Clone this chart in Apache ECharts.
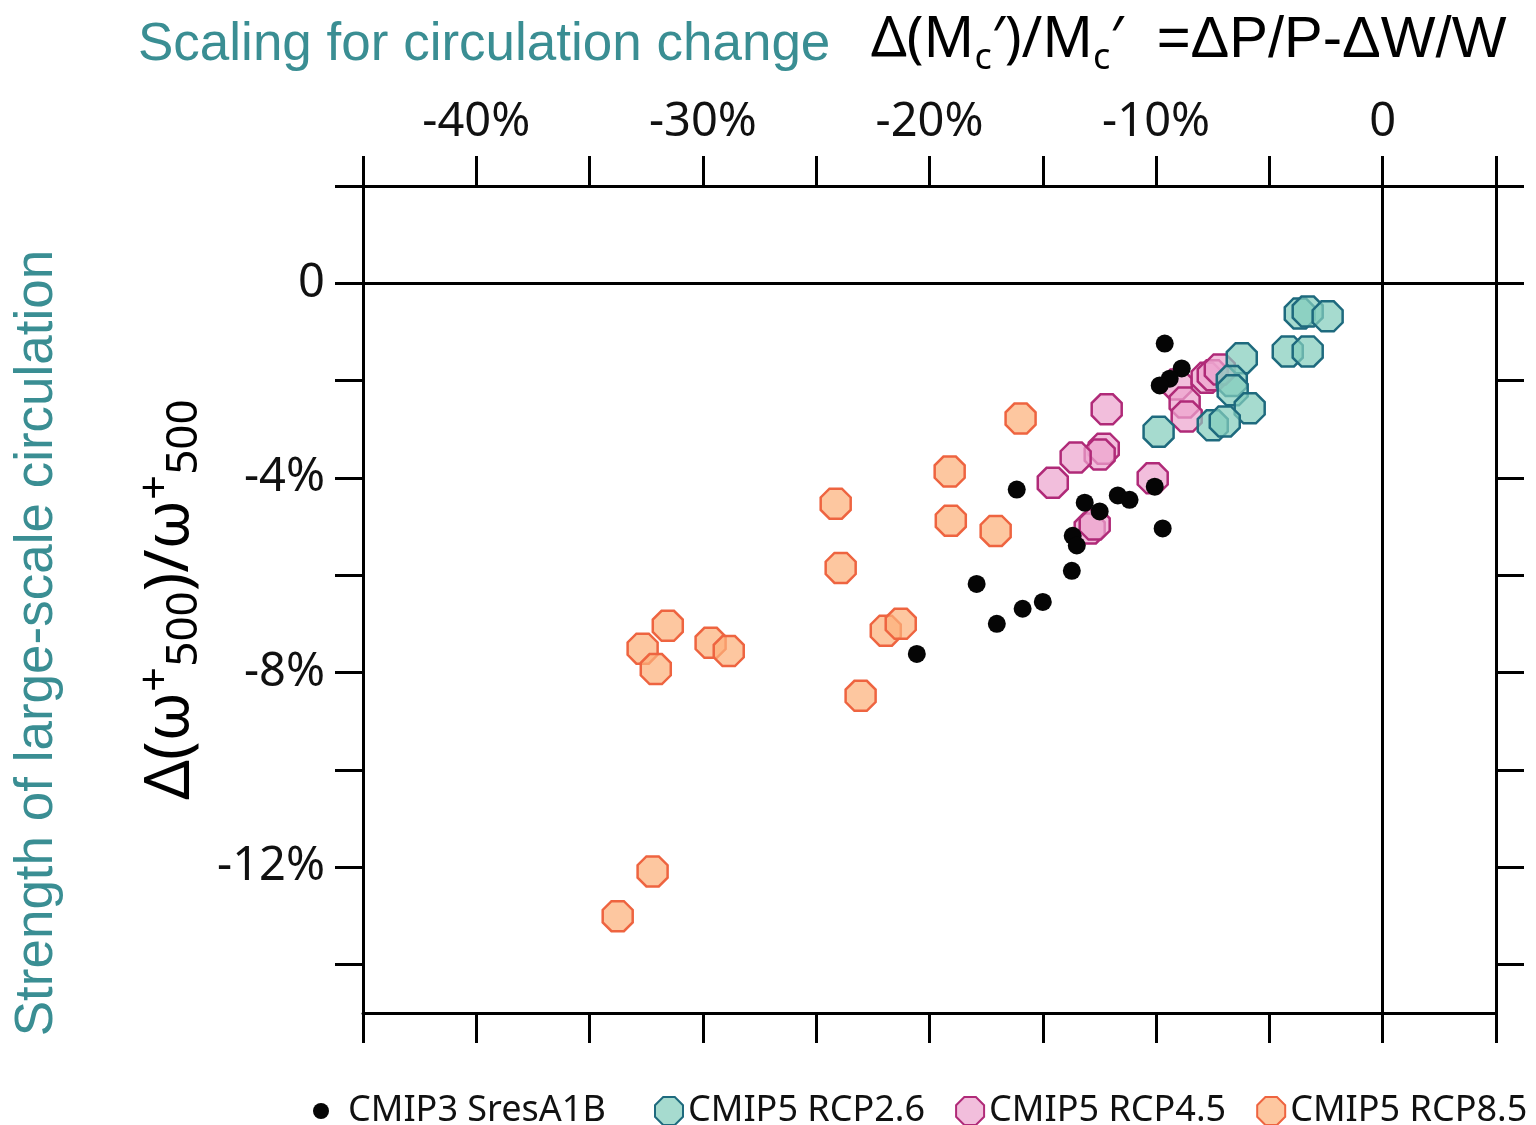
<!DOCTYPE html>
<html>
<head>
<meta charset="utf-8">
<script src="https://cdn.jsdelivr.net/npm/echarts@6/dist/echarts.min.js"></script>
<style>html,body{margin:0;padding:0;background:#fff;}#c{width:1536px;height:1125px;}</style>
</head>
<body>
<div id="c"></div>
<script>
// ---- data (x: scaling for circulation change %, y: change in omega+500 %) ----
const cmip3 = [
  [-9.62,-1.24],[-8.87,-1.75],[-9.40,-1.96],[-9.84,-2.10],[-16.15,-4.24],[-13.15,-4.51],
  [-12.49,-4.69],[-11.69,-4.36],[-11.17,-4.45],[-10.06,-4.18],[-9.71,-5.04],[-13.68,-5.19],
  [-13.50,-5.39],[-13.72,-5.91],[-17.92,-6.18],[-15.00,-6.55],[-15.89,-6.69],[-17.03,-7.00],
  [-20.56,-7.62]
];
const rcp26 = [
  [-3.66,-0.62],[-3.31,-0.58],[-2.43,-0.68],[-4.19,-1.40],[-3.31,-1.40],[-6.22,-1.54],
  [-6.66,-2.01],[-6.62,-2.20],[-5.87,-2.57],[-7.50,-2.92],[-6.97,-2.84],[-9.89,-3.05]
];
const rcp45 = [
  [-12.18,-2.59],[-12.31,-3.40],[-12.49,-3.52],[-13.55,-3.58],[-14.56,-4.10],[-10.15,-4.01],
  [-12.93,-5.04],[-12.71,-4.96],[-9.09,-2.08],[-8.74,-2.45],[-8.65,-2.74],[-7.77,-1.94],
  [-7.50,-1.89],[-7.19,-1.77]
];
const rcp85 = [
  [-15.98,-2.78],[-19.11,-3.87],[-19.06,-4.88],[-17.08,-5.09],[-24.14,-4.53],[-23.92,-5.85],
  [-31.55,-7.04],[-32.66,-7.51],[-32.08,-7.93],[-29.66,-7.39],[-28.86,-7.56],[-21.93,-7.14],
  [-21.27,-7.00],[-23.04,-8.48],[-32.22,-12.09],[-33.76,-13.01]
];
const seriesNames = ['CMIP3 SresA1B','CMIP5 RCP2.6','CMIP5 RCP4.5','CMIP5 RCP8.5'];
const xLabelValues = [-40,-30,-20,-10,0];
const yTickValues = [2,0,-2,-4,-6,-8,-10,-12,-14];
const yLabelValues = [0,-4,-8,-12];

const OCT = 'path://M-0.4142,-1L0.4142,-1L1,-0.4142L1,0.4142L0.4142,1L-0.4142,1L-1,0.4142L-1,-0.4142Z';
const TEAL = '#3a8e93';
const lineW = 3;
const fmt = v => (v === 0 ? '0' : v + '%');
const labelFont = {fontFamily: 'Noto Sans', fontSize: 47, color: '#111'};

function xAx(pos, showLabel) {
  return {
    type: 'value', position: pos, min: -45, max: 5, interval: 5,
    axisLine: {show: true, onZero: false, lineStyle: {color: '#000', width: lineW}},
    axisTick: {show: true, inside: false, length: 30, lineStyle: {color: '#000', width: lineW}},
    axisLabel: showLabel ? Object.assign({show: true, margin: 40, customValues: xLabelValues, formatter: fmt}, labelFont) : {show: false},
    splitLine: {show: false}
  };
}
function yAx(pos, showLabel) {
  const a = {
    type: 'value', position: pos, min: -15, max: 2,
    axisLine: {show: true, onZero: false, lineStyle: {color: '#000', width: lineW}},
    axisTick: {show: true, inside: false, length: 28, customValues: yTickValues, lineStyle: {color: '#000', width: lineW}},
    axisLabel: showLabel ? Object.assign({show: true, margin: 38, customValues: yLabelValues, formatter: fmt}, labelFont) : {show: false},
    splitLine: {show: false}
  };
  if (showLabel) {
    a.name = '{n|Δ(ω}{sup|+}{sub|500}{n|)/ω}{sup|+}{sub|500}';
    a.nameLocation = 'middle';
    a.nameRotate = 90;
    a.nameGap = 146;
    a.nameTextStyle = {
      rich: {
        n: {fontFamily: 'Noto Sans', fontSize: 62, color: '#000', lineHeight: 72},
        sup: {fontFamily: 'Noto Sans', fontSize: 44, color: '#000', verticalAlign: 'top', lineHeight: 42},
        sub: {fontFamily: 'Noto Sans', fontSize: 44, color: '#000', verticalAlign: 'bottom', lineHeight: 42}
      }
    };
  }
  return a;
}

function octSeries(name, data, fill, stroke) {
  return {
    name, type: 'scatter', data, symbol: OCT, symbolSize: 30,
    xAxisIndex: 0, yAxisIndex: 0,
    itemStyle: {color: fill, borderColor: stroke, borderWidth: 2.5, opacity: 1},
    emphasis: {disabled: true}
  };
}

const chart = echarts.init(document.getElementById('c'), null, {renderer: 'canvas'});
chart.setOption({
  animation: false,
  backgroundColor: '#fff',
  grid: {left: 363, right: 40, top: 186, bottom: 112, containLabel: false, outerBoundsMode: 'none'},
  title: [
    {text: 'Scaling for circulation change', left: 133, top: 14,
     textStyle: {fontFamily: 'Liberation Sans', fontSize: 53, fontWeight: 'normal', color: TEAL}},
    {text: '{n|Δ(M}{s|c}{n|′)/M}{s|c}{n|′}{sp|   }{a|=ΔP/P-ΔW/W}', left: 866, top: 0,
     textStyle: {fontWeight: 'normal', rich: {
       n: {fontFamily: 'Noto Sans', fontSize: 56, fontWeight: 'normal', color: '#000', lineHeight: 72},
       s: {fontFamily: 'Noto Sans', fontSize: 36, fontWeight: 'normal', color: '#000', verticalAlign: 'bottom', lineHeight: 36},
       sp: {fontFamily: 'Liberation Sans', fontSize: 40, fontWeight: 'normal', color: '#000', lineHeight: 72},
       a: {fontFamily: 'Liberation Sans', fontSize: 58, fontWeight: 'normal', color: '#000', lineHeight: 72}
     }}}
  ],
  graphic: [{
    type: 'text', x: 37, y: 643, rotation: Math.PI / 2,
    style: {text: 'Strength of large-scale circulation', fontFamily: 'Liberation Sans', fontSize: 53,
            fill: TEAL, textAlign: 'center', textVerticalAlign: 'middle'}
  }],
  legend: [
    {data: [seriesNames[0]], left: 308, top: 1088, itemWidth: 44, itemHeight: 16, icon: 'circle',
     textStyle: {fontFamily: 'Noto Sans', fontSize: 36, color: '#111'}},
    {data: seriesNames.slice(1), left: 649, top: 1088, itemWidth: 28, itemHeight: 28, itemGap: 30, width: 880,
     textStyle: {fontFamily: 'Noto Sans', fontSize: 36, color: '#111'}}
  ],
  xAxis: [xAx('bottom', false), xAx('top', true)],
  yAxis: [yAx('left', true), yAx('right', false)],
  series: [
    octSeries(seriesNames[3], rcp85, 'rgba(252,178,124,0.72)', '#ee6440'),
    octSeries(seriesNames[2], rcp45, 'rgba(237,165,207,0.72)', '#b02a78'),
    octSeries(seriesNames[1], rcp26, 'rgba(132,205,188,0.72)', '#1e6a7e'),
    {
      name: seriesNames[0], type: 'scatter', data: cmip3, symbol: 'circle', symbolSize: 18,
      xAxisIndex: 0, yAxisIndex: 0,
      itemStyle: {color: '#050505', opacity: 1}, emphasis: {disabled: true},
      markLine: {
        silent: true, symbol: 'none', label: {show: false},
        lineStyle: {color: '#000', width: lineW, type: 'solid'},
        data: [{xAxis: 0}, {yAxis: 0}]
      }
    }
  ]
});
</script>
</body>
</html>
